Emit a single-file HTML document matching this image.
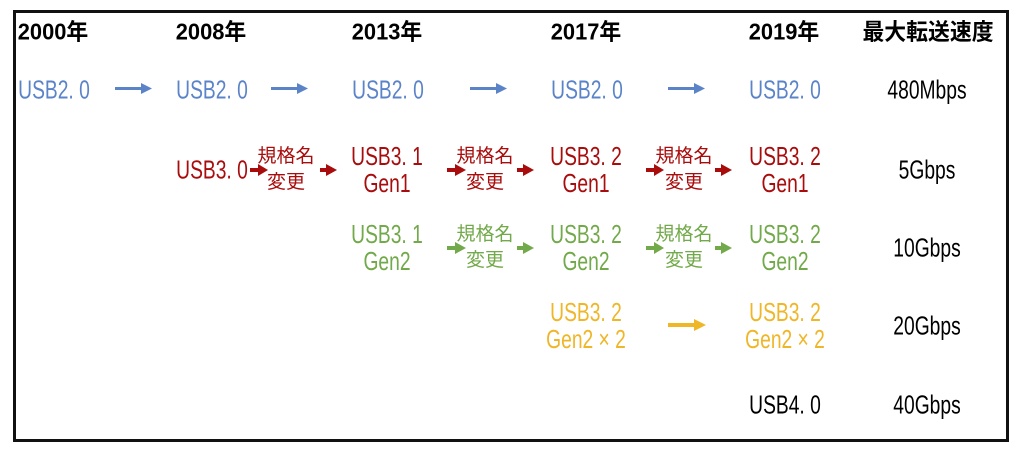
<!DOCTYPE html>
<html><head><meta charset="utf-8"><style>
html,body{margin:0;padding:0;background:#fff;}
body{width:1024px;height:456px;position:relative;overflow:hidden;font-family:"Liberation Sans","Noto Sans CJK JP",sans-serif;}
.box{position:absolute;left:13px;top:10px;width:990px;height:426px;border:3px solid #111;}
.t{position:absolute;transform:translate(-50%,-50%) scaleX(0.74);white-space:nowrap;font-size:26px;line-height:27px;text-align:center;}
.h{font-weight:bold;color:#000;font-size:23px;transform:translate(-50%,-50%) scaleX(0.95);}
.b{color:#5b84c8}.r{color:#a80c0c}.g{color:#72a94a}.y{color:#efb628}.k{color:#000}
.s{font-size:19px;line-height:26px;transform:translate(-50%,-50%)}
svg{position:absolute;left:0;top:0}
</style></head><body>
<div class="box"></div>
<div class="t h" style="left:53px;top:32px">2000年</div>
<div class="t h" style="left:211px;top:32px">2008年</div>
<div class="t h" style="left:387px;top:32px">2013年</div>
<div class="t h" style="left:586px;top:32px">2017年</div>
<div class="t h" style="left:784px;top:32px">2019年</div>
<div class="t h" style="left:928px;top:32px">最大転送速度</div>

<div class="t b" style="left:54px;top:90px">USB2. 0</div>
<div class="t b" style="left:212px;top:90px">USB2. 0</div>
<div class="t b" style="left:388px;top:90px">USB2. 0</div>
<div class="t b" style="left:587px;top:90px">USB2. 0</div>
<div class="t b" style="left:785px;top:90px">USB2. 0</div>
<div class="t k" style="left:927px;top:90px">480Mbps</div>

<div class="t r" style="left:212px;top:170px">USB3. 0</div>
<div class="t r s" style="left:286px;top:170px">規格名<br>変更</div>
<div class="t r" style="left:387px;top:170px">USB3. 1<br>Gen1</div>
<div class="t r s" style="left:485px;top:170px">規格名<br>変更</div>
<div class="t r" style="left:586px;top:170px">USB3. 2<br>Gen1</div>
<div class="t r s" style="left:684px;top:170px">規格名<br>変更</div>
<div class="t r" style="left:785px;top:170px">USB3. 2<br>Gen1</div>
<div class="t k" style="left:927px;top:170px">5Gbps</div>

<div class="t g" style="left:387px;top:248px">USB3. 1<br>Gen2</div>
<div class="t g s" style="left:485px;top:248px">規格名<br>変更</div>
<div class="t g" style="left:586px;top:248px">USB3. 2<br>Gen2</div>
<div class="t g s" style="left:684px;top:248px">規格名<br>変更</div>
<div class="t g" style="left:785px;top:248px">USB3. 2<br>Gen2</div>
<div class="t k" style="left:927px;top:248px">10Gbps</div>

<div class="t y" style="left:586px;top:326px">USB3. 2<br>Gen2 × 2</div>
<div class="t y" style="left:785px;top:326px">USB3. 2<br>Gen2 × 2</div>
<div class="t k" style="left:927px;top:326px">20Gbps</div>

<div class="t k" style="left:785px;top:405px">USB4. 0</div>
<div class="t k" style="left:927px;top:405px">40Gbps</div>

<svg width="1024" height="456">
<g fill="#5b84c8">
<rect x="115" y="87" width="28" height="3"/><path d="M141,83L152,88.5L141,94z"/>
<rect x="271" y="87" width="28" height="3"/><path d="M297,83L308,88.5L297,94z"/>
<rect x="470" y="87" width="28" height="3"/><path d="M496,83L507,88.5L496,94z"/>
<rect x="668" y="87" width="28" height="3"/><path d="M694,83L705,88.5L694,94z"/>
</g>
<g fill="#a80c0c">
<rect x="250" y="168" width="10" height="4"/><path d="M258,164L268,170L258,176z"/>
<rect x="320" y="168" width="8" height="4"/><path d="M326,164L337,170L326,176z"/>
<rect x="447" y="168" width="10" height="4"/><path d="M455,164L466,170L455,176z"/>
<rect x="517" y="168" width="8" height="4"/><path d="M523,164L534,170L523,176z"/>
<rect x="646" y="168" width="10" height="4"/><path d="M654,164L664,170L654,176z"/>
<rect x="715" y="168" width="8" height="4"/><path d="M721,164L732,170L721,176z"/>
</g>
<g fill="#72a94a">
<rect x="447" y="246" width="10" height="4"/><path d="M455,242L466,248L455,254z"/>
<rect x="517" y="246" width="8" height="4"/><path d="M523,242L534,248L523,254z"/>
<rect x="646" y="246" width="10" height="4"/><path d="M654,242L664,248L654,254z"/>
<rect x="715" y="246" width="8" height="4"/><path d="M721,242L732,248L721,254z"/>
</g>
<g fill="#efb628">
<rect x="668" y="323" width="28" height="4"/><path d="M694,319L706,325L694,331z"/>
</g>
</svg>
</body></html>
